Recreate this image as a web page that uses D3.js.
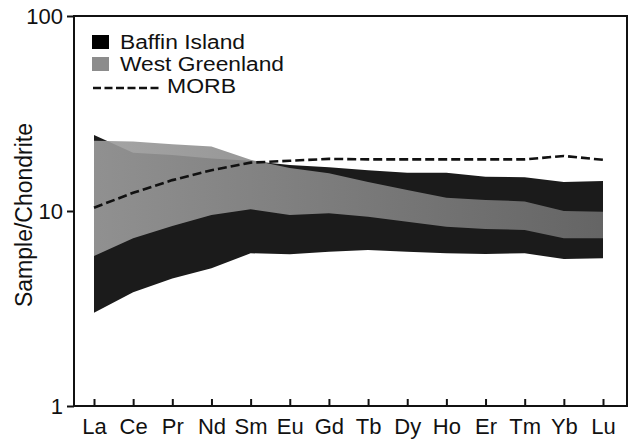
<!DOCTYPE html>
<html>
<head>
<meta charset="utf-8">
<script src="https://cdn.jsdelivr.net/npm/d3@7/dist/d3.min.js"></script>
<style>
  html, body { margin: 0; padding: 0; background: #fff; }
  svg text { font-family: "Liberation Sans", Arial, Helvetica, sans-serif; fill: #111; }
</style>
</head>
<body>
<svg id="chart" width="630" height="439"></svg>
<script>
// Rare earth elements, chondrite-normalised
const elements = ["La","Ce","Pr","Nd","Sm","Eu","Gd","Tb","Dy","Ho","Er","Tm","Yb","Lu"];

// Baffin Island envelope
const baffinUpper = [24.5, 19.9, 19.4, 18.6, 18.1, 17.2, 16.75, 16.2, 15.7, 15.7, 15.0, 14.9, 14.1, 14.25];
const baffinLower = [3.01, 3.83, 4.50, 5.08, 6.07, 6.00, 6.18, 6.31, 6.18, 6.07, 6.02, 6.07, 5.67, 5.72];

// West Greenland envelope
const greenlandUpper = [22.9, 22.7, 22.0, 21.4, 18.3, 16.6, 15.6, 14.1, 12.8, 11.7, 11.4, 11.2, 10.0, 9.9];
const greenlandLower = [5.88, 7.24, 8.38, 9.54, 10.2, 9.54, 9.73, 9.35, 8.81, 8.31, 8.09, 7.99, 7.24, 7.24];

// N-MORB reference pattern
const morb = [10.4, 12.4, 14.4, 16.2, 17.7, 18.1, 18.5, 18.4, 18.4, 18.4, 18.4, 18.4, 19.15, 18.3];

const yTicks = [1, 10, 100];
const legendItems = ["Baffin Island", "West Greenland", "MORB"];

const svg = d3.select("#chart");
const box = { left: 74, right: 627, top: 16, bottom: 406 };
const font = "'Liberation Sans', Arial, sans-serif";

const x = d3.scalePoint().domain(elements).range([94, 603]);
const y = d3.scaleLog().domain([1, 100]).range([box.bottom, box.top]);

// horizontal shading for the West Greenland band
const defs = svg.append("defs");
const grad = defs.append("linearGradient")
  .attr("id", "wgFill")
  .attr("gradientUnits", "userSpaceOnUse")
  .attr("x1", x("La")).attr("x2", x("Lu")).attr("y1", 0).attr("y2", 0);
grad.append("stop").attr("offset", "0%").attr("stop-color", "#9c9c9c");
grad.append("stop").attr("offset", "100%").attr("stop-color", "#6c6c6c");

const band = (upper, lower) => d3.area()
  .x((d, i) => x(elements[i]))
  .y0((d, i) => y(lower[i]))
  .y1((d, i) => y(upper[i]))(elements);

svg.append("path")
  .attr("d", band(baffinUpper, baffinLower))
  .attr("fill", "#1b1b1b");

svg.append("path")
  .attr("d", band(greenlandUpper, greenlandLower))
  .attr("fill", "url(#wgFill)")
  .attr("fill-opacity", 0.91);

svg.append("path")
  .datum(morb)
  .attr("d", d3.line().x((d, i) => x(elements[i])).y(d => y(d)))
  .attr("fill", "none")
  .attr("stroke", "#111")
  .attr("stroke-width", 2.6)
  .attr("stroke-dasharray", "9,4");

// frame
svg.append("rect")
  .attr("x", box.left).attr("y", box.top)
  .attr("width", box.right - box.left).attr("height", box.bottom - box.top)
  .attr("fill", "none").attr("stroke", "#111").attr("stroke-width", 2);

// y axis (ticks outward)
const yAxis = d3.axisLeft(y).tickValues(yTicks).tickFormat(d3.format("d")).tickSize(7).tickPadding(4);
const gy = svg.append("g").attr("transform", `translate(${box.left},0)`).call(yAxis);
gy.select(".domain").remove();
gy.selectAll(".tick line").attr("stroke", "#111").attr("stroke-width", 2);
gy.selectAll(".tick text").attr("font-size", 22).attr("fill", "#111").style("font-family", font);

// x axis (ticks inward)
const xAxis = d3.axisBottom(x).tickSize(-7).tickPadding(12);
const gx = svg.append("g").attr("transform", `translate(0,${box.bottom})`).call(xAxis);
gx.select(".domain").remove();
gx.selectAll(".tick line").attr("stroke", "#111").attr("stroke-width", 2);
gx.selectAll(".tick text").attr("font-size", 22).attr("fill", "#111").style("font-family", font);

// y axis title
svg.append("text")
  .attr("transform", "translate(32,215) rotate(-90)")
  .attr("text-anchor", "middle")
  .attr("font-size", 23)
  .text("Sample/Chondrite");

// legend
const lg = svg.append("g");
const legendText = (tx, ty, label, len) => lg.append("text")
  .attr("x", tx).attr("y", ty).attr("font-size", 20)
  .attr("textLength", len).attr("lengthAdjust", "spacingAndGlyphs")
  .text(label);
lg.append("rect").attr("x", 92).attr("y", 35).attr("width", 17).attr("height", 14).attr("fill", "#000");
legendText(120, 49, legendItems[0], 125);
lg.append("rect").attr("x", 92).attr("y", 57).attr("width", 17).attr("height", 14).attr("fill", "#8c8c8c");
legendText(120, 71, legendItems[1], 164);
lg.append("line").attr("x1", 93).attr("x2", 159).attr("y1", 88).attr("y2", 88)
  .attr("stroke", "#111").attr("stroke-width", 2.6).attr("stroke-dasharray", "8,3.5");
legendText(167, 93, legendItems[2], 69);
</script>
</body>
</html>
